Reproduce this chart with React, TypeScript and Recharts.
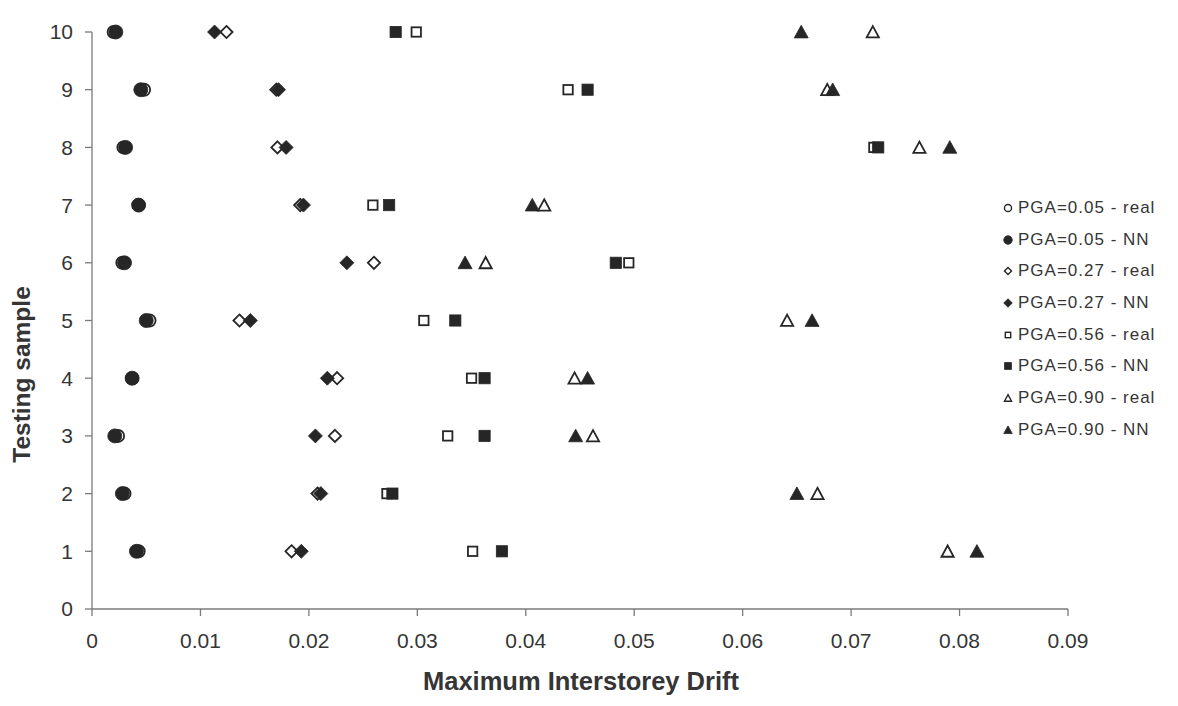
import React from 'react';
import { ScatterChart, Scatter, XAxis, YAxis, Legend, Label } from 'recharts';

const samples = [1, 2, 3, 4, 5, 6, 7, 8, 9, 10];
const real005 = [0.0043, 0.0030, 0.0024, 0.0037, 0.0053, 0.0028, 0.0043, 0.0029, 0.0048, 0.0020];
const nn005 = [0.0041, 0.0028, 0.0021, 0.0037, 0.0050, 0.0030, 0.0043, 0.0031, 0.0045, 0.0022];
const real027 = [0.0184, 0.0208, 0.0224, 0.0226, 0.0136, 0.0260, 0.0192, 0.0171, 0.0170, 0.0124];
const nn027 = [0.0193, 0.0211, 0.0206, 0.0217, 0.0146, 0.0235, 0.0195, 0.0179, 0.0172, 0.0113];
const real056 = [0.0351, 0.0272, 0.0328, 0.0350, 0.0306, 0.0495, 0.0259, 0.0721, 0.0439, 0.0299];
const nn056 = [0.0378, 0.0277, 0.0362, 0.0362, 0.0335, 0.0483, 0.0274, 0.0725, 0.0457, 0.0280];
const real090 = [0.0789, 0.0669, 0.0462, 0.0445, 0.0641, 0.0363, 0.0417, 0.0763, 0.0678, 0.0720];
const nn090 = [0.0816, 0.0650, 0.0446, 0.0457, 0.0664, 0.0344, 0.0406, 0.0791, 0.0683, 0.0654];

const xTicks = [0, 0.01, 0.02, 0.03, 0.04, 0.05, 0.06, 0.07, 0.08, 0.09];
const yTicks = [0, 1, 2, 3, 4, 5, 6, 7, 8, 9, 10];

const INK = '#262626';
const AXIS = '#7a7a7a';
const TEXT = '#353535';
const FONT = 'Arial, "Liberation Sans", sans-serif';

type Kind = 'circle' | 'diamond' | 'square' | 'triangle';

const seriesDefs: { name: string; values: number[]; kind: Kind; filled: boolean }[] = [
  { name: 'PGA=0.05 - real', values: real005, kind: 'circle', filled: false },
  { name: 'PGA=0.05 - NN', values: nn005, kind: 'circle', filled: true },
  { name: 'PGA=0.27 - real', values: real027, kind: 'diamond', filled: false },
  { name: 'PGA=0.27 - NN', values: nn027, kind: 'diamond', filled: true },
  { name: 'PGA=0.56 - real', values: real056, kind: 'square', filled: false },
  { name: 'PGA=0.56 - NN', values: nn056, kind: 'square', filled: true },
  { name: 'PGA=0.90 - real', values: real090, kind: 'triangle', filled: false },
  { name: 'PGA=0.90 - NN', values: nn090, kind: 'triangle', filled: true },
];

function marker(kind: Kind, filled: boolean, cx: number, cy: number, s: number, sw: number) {
  const fill = filled ? INK : '#ffffff';
  const common = { fill, stroke: INK, strokeWidth: filled ? 0.8 : sw };
  const inset = filled ? 0 : sw / 2;
  if (kind === 'circle') {
    return <circle cx={cx} cy={cy} r={s / 2 - inset} {...common} />;
  }
  if (kind === 'diamond') {
    const h = s / 2 - inset;
    return <path d={`M${cx},${cy - h}L${cx + h},${cy}L${cx},${cy + h}L${cx - h},${cy}Z`} {...common} />;
  }
  if (kind === 'square') {
    const h = (s * 0.8) / 2 - inset;
    return <rect x={cx - h} y={cy - h} width={2 * h} height={2 * h} {...common} />;
  }
  const w = s / 2 - inset;
  const top = cy - s * 0.48 + inset;
  const bot = cy + s * 0.42 - inset / 2;
  return <path d={`M${cx},${top}L${cx + w},${bot}L${cx - w},${bot}Z`} {...common} />;
}

const makeShape = (kind: Kind, filled: boolean) => (props: any) => {
  const { cx, cy } = props;
  if (cx == null || cy == null) return <g />;
  return marker(kind, filled, cx, cy, 14, 1.8);
};

const renderLegend = () => (
  <div style={{ fontFamily: FONT, color: TEXT }}>
    {seriesDefs.map((s) => (
      <div key={s.name} style={{ height: 31.7, display: 'flex', alignItems: 'center' }}>
        <svg width={12} height={12} style={{ marginRight: 4 }}>
          {marker(s.kind, s.filled, 6, 6, 8.5, 1.4)}
        </svg>
        <span style={{ fontSize: 17, letterSpacing: 1.0, whiteSpace: 'nowrap' }}>{s.name}</span>
      </div>
    ))}
  </div>
);

const fmtX = (v: number) => (v === 0 ? '0' : v.toFixed(2));

export default function App() {
  return (
    <div style={{ position: 'absolute', left: 0, top: 0, background: '#fff' }}>
      <ScatterChart width={1178} height={706} margin={{ top: 32, right: 110, bottom: 0, left: 0 }}>
        <XAxis
          type="number"
          dataKey="x"
          domain={[0, 0.09]}
          ticks={xTicks}
          tickFormatter={fmtX}
          height={97}
          tickSize={7}
          tickMargin={17}
          stroke={AXIS}
          axisLine={{ stroke: AXIS, strokeWidth: 1.3 }}
          tickLine={{ stroke: AXIS, strokeWidth: 1.3 }}
          tick={{ fill: TEXT, fontSize: 21, fontFamily: FONT }}
          interval={0}
          allowDataOverflow
        >
          <Label
            content={(p: any) => {
              const vb = p.viewBox;
              return (
                <text
                  x={vb.x + vb.width / 2 + 1}
                  y={vb.y + 81}
                  textAnchor="middle"
                  fill={TEXT}
                  fontFamily={FONT}
                  fontWeight="bold"
                  fontSize={25.5}
                >
                  Maximum Interstorey Drift
                </text>
              );
            }}
          />
        </XAxis>
        <YAxis
          type="number"
          dataKey="y"
          domain={[0, 10]}
          ticks={yTicks}
          width={92}
          tickSize={7}
          tickMargin={12}
          stroke={AXIS}
          axisLine={{ stroke: AXIS, strokeWidth: 1.3 }}
          tickLine={{ stroke: AXIS, strokeWidth: 1.3 }}
          tick={{ fill: TEXT, fontSize: 21, fontFamily: FONT }}
          interval={0}
        >
          <Label
            content={(p: any) => {
              const vb = p.viewBox;
              const x = vb.x + 30;
              const y = vb.y + vb.height / 2 + 54;
              return (
                <text
                  x={x}
                  y={y}
                  transform={`rotate(-90, ${x}, ${y})`}
                  textAnchor="middle"
                  fill={TEXT}
                  fontFamily={FONT}
                  fontWeight="bold"
                  fontSize={24.5}
                >
                  Testing sample
                </text>
              );
            }}
          />
        </YAxis>
        <Legend
          layout="horizontal"
          verticalAlign="middle"
          align="center"
          wrapperStyle={{ left: 1002, top: 192, width: 176 }}
          content={renderLegend}
        />
        {seriesDefs.map((s) => (
          <Scatter
            key={s.name}
            name={s.name}
            data={samples.map((y, i) => ({ x: s.values[i], y }))}
            shape={makeShape(s.kind, s.filled)}
            isAnimationActive={false}
          />
        ))}
      </ScatterChart>
    </div>
  );
}
